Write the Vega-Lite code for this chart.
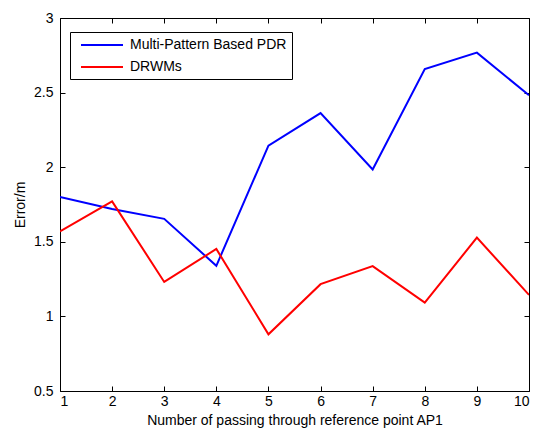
{
  "$schema": "https://vega.github.io/schema/vega-lite/v6.json",
  "width": 469,
  "height": 373,
  "autosize": {"type": "none"},
  "padding": {"left": 60, "top": 18, "right": 5, "bottom": 37},
  "background": "white",
  "config": {
    "view": {"stroke": "black", "strokeWidth": 1},
    "font": "Liberation Sans",
    "axis": {
      "domain": false,
      "tickColor": "black",
      "tickWidth": 1,
      "labelColor": "black",
      "titleColor": "black",
      "labelFont": "Liberation Sans",
      "titleFont": "Liberation Sans",
      "labelFontSize": 14,
      "titleFontSize": 14,
      "titleFontWeight": "normal",
      "grid": false,
      "tickSize": 5,
      "offset": -5
    }
  },
  "data": {
    "values": [
      {"n": 1, "method": "Multi-Pattern Based PDR", "err": 1.80},
      {"n": 2, "method": "Multi-Pattern Based PDR", "err": 1.72},
      {"n": 3, "method": "Multi-Pattern Based PDR", "err": 1.654},
      {"n": 4, "method": "Multi-Pattern Based PDR", "err": 1.339},
      {"n": 5, "method": "Multi-Pattern Based PDR", "err": 2.145},
      {"n": 6, "method": "Multi-Pattern Based PDR", "err": 2.363},
      {"n": 7, "method": "Multi-Pattern Based PDR", "err": 1.985},
      {"n": 8, "method": "Multi-Pattern Based PDR", "err": 2.658},
      {"n": 9, "method": "Multi-Pattern Based PDR", "err": 2.768},
      {"n": 10, "method": "Multi-Pattern Based PDR", "err": 2.482},
      {"n": 1, "method": "DRWMs", "err": 1.569},
      {"n": 2, "method": "DRWMs", "err": 1.771},
      {"n": 3, "method": "DRWMs", "err": 1.231},
      {"n": 4, "method": "DRWMs", "err": 1.452},
      {"n": 5, "method": "DRWMs", "err": 0.880},
      {"n": 6, "method": "DRWMs", "err": 1.216},
      {"n": 7, "method": "DRWMs", "err": 1.337},
      {"n": 8, "method": "DRWMs", "err": 1.092},
      {"n": 9, "method": "DRWMs", "err": 1.528},
      {"n": 10, "method": "DRWMs", "err": 1.144}
    ]
  },
  "layer": [
    {
      "mark": {"type": "line", "strokeWidth": 2, "clip": true},
      "encoding": {
        "x": {
          "field": "n", "type": "quantitative",
          "scale": {"domain": [1, 10], "nice": false, "zero": false},
          "axis": {"values": [1,2,3,4,5,6,7,8,9,10], "title": "Number of passing through reference point AP1", "labelPadding": 3, "titlePadding": 5}
        },
        "y": {
          "field": "err", "type": "quantitative",
          "scale": {"domain": [0.5, 3], "nice": false, "zero": false},
          "axis": {"values": [0.5,1,1.5,2,2.5,3], "format": "~g", "title": "Error/m", "labelPadding": 7, "titlePadding": 6}
        },
        "color": {
          "field": "method", "type": "nominal",
          "scale": {"domain": ["Multi-Pattern Based PDR", "DRWMs"], "range": ["#0000FF", "#FF0000"]},
          "legend": {
            "title": null,
            "orient": "none",
            "legendX": 10,
            "legendY": 14,
            "symbolType": "M-0.2857,0H5.714",
            "symbolSize": 196,
            "symbolStrokeWidth": 2,
            "labelFontSize": 14,
            "labelFont": "Liberation Sans",
            "labelColor": "black",
            "labelLimit": 400,
            "strokeColor": "black",
            "fillColor": "white",
            "padding": 5,
            "rowPadding": 7,
            "labelOffset": 39
          }
        }
      }
    },
    {
      "mark": {"type": "line", "opacity": 0},
      "encoding": {
        "x": {
          "field": "n", "type": "quantitative",
          "axis": {"orient": "top", "values": [1,2,3,4,5,6,7,8,9,10], "labels": false, "title": null}
        },
        "y": {
          "field": "err", "type": "quantitative",
          "axis": {"orient": "right", "values": [0.5,1,1.5,2,2.5,3], "labels": false, "title": null}
        },
        "detail": {"field": "method"}
      }
    }
  ],
  "resolve": {"axis": {"x": "independent", "y": "independent"}}
}
